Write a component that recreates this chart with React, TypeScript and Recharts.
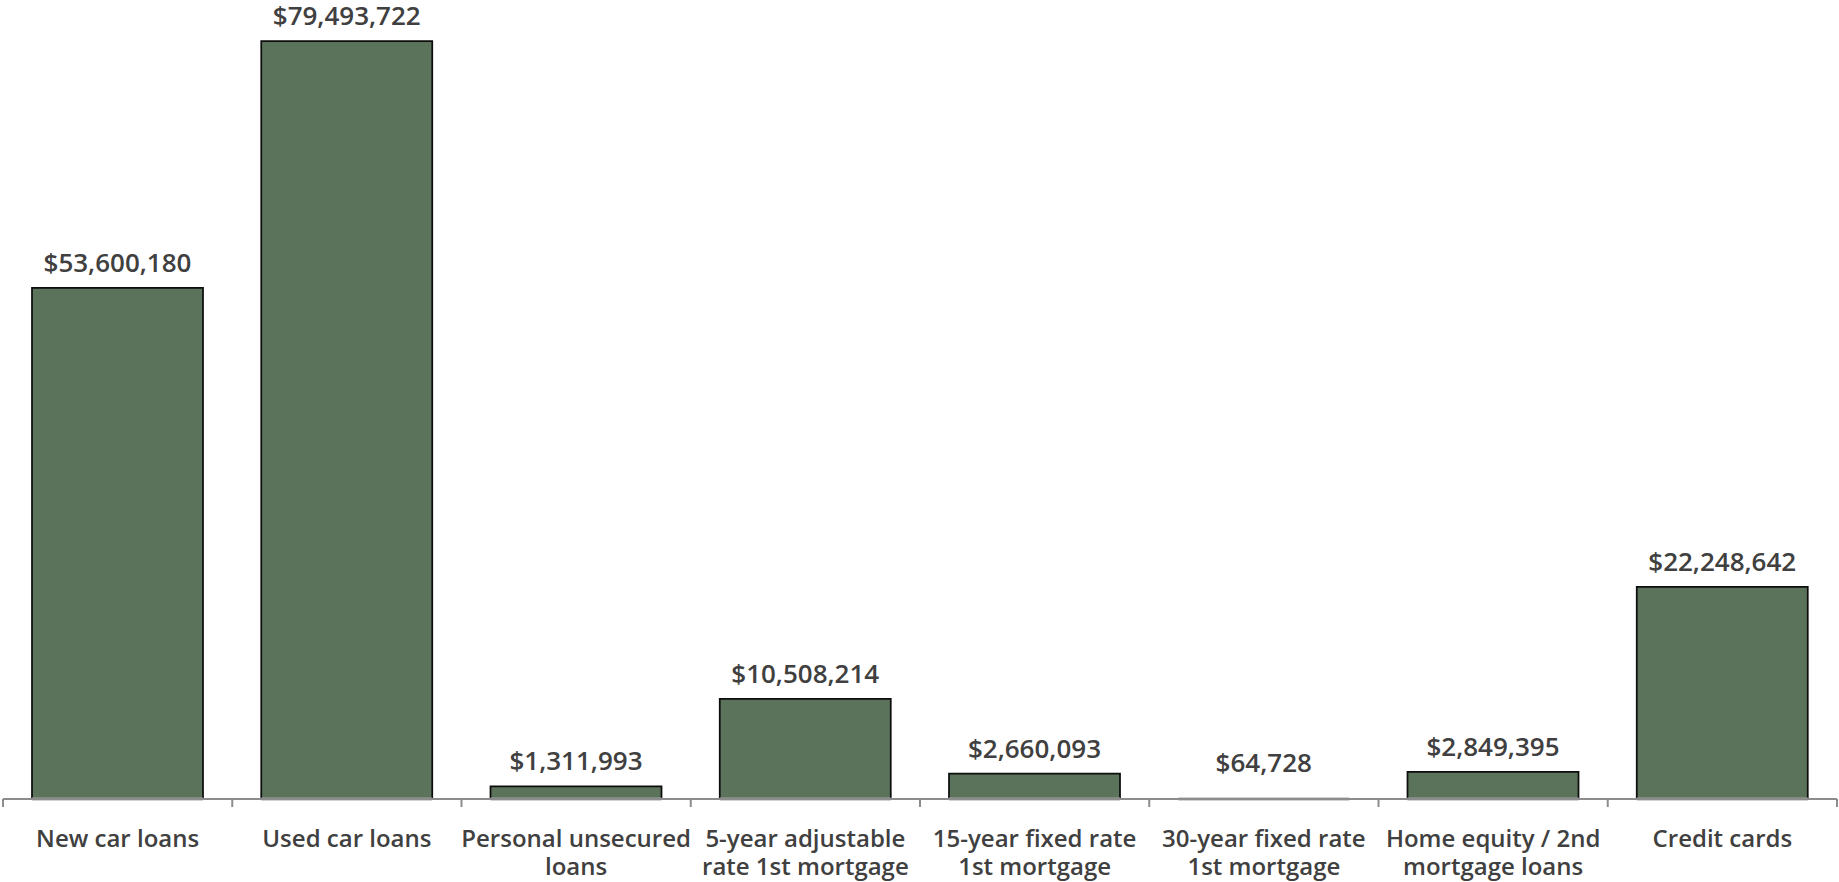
import { Bar, BarChart, XAxis, YAxis, LabelList } from "recharts";

const categories = [
  "New car loans",
  "Used car loans",
  "Personal unsecured\nloans",
  "5-year adjustable\nrate 1st mortgage",
  "15-year fixed rate\n1st mortgage",
  "30-year fixed rate\n1st mortgage",
  "Home equity / 2nd\nmortgage loans",
  "Credit cards",
];
const balances = [53600180, 79493722, 1311993, 10508214, 2660093, 64728, 2849395, 22248642];

const data = categories.map((name, i) => ({ name, total: balances[i] }));

const W = 1839;
const H = 882;
const AXIS_H = 83;
const margin = { top: 41, right: 2, bottom: 0, left: 3 };
const axisY = H - AXIS_H;
const band = (W - margin.left - margin.right) / categories.length;

const font = "'Open Sans', 'Noto Sans', sans-serif";
const textColor = "#404040";
const axisColor = "#8c8c8c";

const money = (v: number) => "$" + v.toLocaleString("en-US");

function CategoryTick(props: any) {
  const { x, y, payload, index } = props;
  const lines = String(payload.value).split("\n");
  const left = x - band / 2;
  const right = x + band / 2;
  return (
    <g>
      <line x1={left} x2={left} y1={y} y2={y + 8} stroke={axisColor} strokeWidth={2} />
      {index === categories.length - 1 && (
        <line x1={right} x2={right} y1={y} y2={y + 8} stroke={axisColor} strokeWidth={2} />
      )}
      <text x={x} y={y + 48} textAnchor="middle" fill={textColor} fontFamily={font} fontSize={24} fontWeight={600}>
        {lines.map((l, i) => (
          <tspan key={i} x={x} dy={i === 0 ? 0 : 28}>
            {l}
          </tspan>
        ))}
      </text>
    </g>
  );
}

// outlined bar, bottom edge left to the grey axis
function OutlinedBar(props: any) {
  const { x, y, width, height, fill } = props;
  const bottom = y + height;
  return (
    <g>
      <rect x={x} y={y} width={width} height={height} fill={fill} />
      {height > 2 && (
        <path
          d={`M${x},${bottom} V${y} H${x + width} V${bottom}`}
          fill="none"
          stroke="#0d0d0d"
          strokeWidth={1.75}
        />
      )}
      <line x1={x} x2={x + width} y1={bottom} y2={bottom} stroke="#a6a6a6" strokeWidth={3} />
    </g>
  );
}

function ValueLabel(props: any) {
  const { x, y, width, value } = props;
  const baseline = Math.min(y - 16, axisY - 27);
  return (
    <text
      x={x + width / 2}
      y={baseline}
      textAnchor="middle"
      fill={textColor}
      fontFamily={font}
      fontSize={26}
      fontWeight={600}
    >
      {money(value)}
    </text>
  );
}

export default function App() {
  return (
    <div style={{ position: "absolute", left: 0, top: 0, width: W, height: H, background: "#fff" }}>
      <BarChart width={W} height={H} data={data} margin={margin} barCategoryGap="12.65%">
        <XAxis
          dataKey="name"
          height={AXIS_H}
          interval={0}
          tickLine={false}
          tickSize={0}
          tickMargin={0}
          axisLine={{ stroke: axisColor, strokeWidth: 2 }}
          tick={<CategoryTick />}
        />
        <YAxis hide domain={[0, "dataMax"]} />
        <Bar dataKey="total" fill="#5b735a" shape={<OutlinedBar />} isAnimationActive={false}>
          <LabelList dataKey="total" content={<ValueLabel />} />
        </Bar>
      </BarChart>
    </div>
  );
}
